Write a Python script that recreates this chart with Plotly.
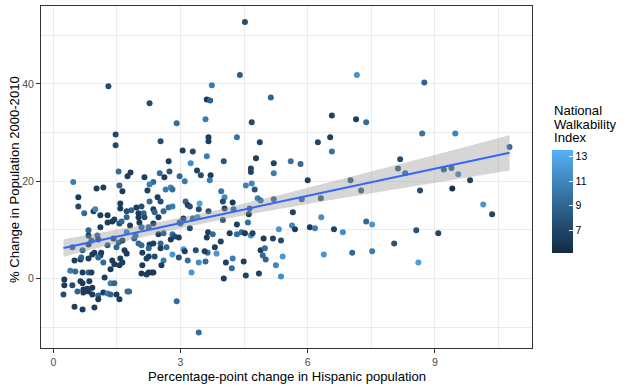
import numpy as np
import plotly.graph_objects as go

# Percentage-point change in Hispanic population, % change in population 2000-2010, walkability index
hisp_change = [
 1.30, 2.27,
 4.52, 4.40, 3.74, 5.13, 3.62, 3.70, 3.59, 2.91, 4.68,
 7.16, 6.57, 7.14, 7.38, 6.53, 6.24, 6.57, 5.83, 8.18, 8.13, 8.30, 6.00, 7.01,
 8.75, 8.70, 9.48, 10.76, 9.21, 9.39, 9.55, 9.83,
 7.26, 6.31, 8.65, 9.41, 10.14, 10.35, 6.32, 6.62, 6.83, 7.38, 7.52, 8.56, 9.08, 6.38, 7.05, 7.52, 8.04, 8.61,
 4.00, 4.33, 4.59, 4.16, 4.33, 4.44, 4.52, 4.66, 4.70, 3.95, 4.96, 5.18, 5.37, 5.32, 5.63, 5.70, 6.05, 6.17,
 4.89, 4.99, 4.94, 5.01, 5.41, 5.25, 5.37, 4.07, 4.23, 4.49, 4.21, 4.02, 4.54, 4.85,
 4.33, 4.87, 4.02, 4.78, 5.20, 5.60, 4.66, 4.66, 5.20, 4.54, 4.68, 4.75, 3.96, 4.04, 4.00, 4.23, 4.82, 4.89,
 5.20, 5.86, 4.04, 4.25, 4.63, 4.61, 5.65,
 2.53, 3.66, 3.66, 3.05, 3.29, 3.62, 2.72, 3.24, 1.82, 2.15, 2.51, 2.74, 2.62, 2.98, 3.10, 3.39, 3.48, 3.71,
 3.69, 2.36, 2.27, 2.22, 2.65, 2.77, 2.81, 2.46, 2.53, 2.27, 3.12, 3.45, 3.17, 3.22, 3.43, 3.66, 3.07, 3.29,
 3.40, 1.96, 2.08, 1.84, 2.01, 2.13, 2.01, 2.15, 2.36, 2.39, 2.60, 2.72, 2.81, 2.48,
 1.47, 1.47, 1.54, 1.75, 0.47, 1.56, 1.02, 1.18, 1.63, 0.59, 1.58, 0.59, 1.58, 1.73, 0.73, 0.95, 0.99, 1.11,
 1.28, 1.44, 1.73,
 0.83, 1.11, 1.28, 1.39, 1.56, 1.61, 1.73, 0.83, 1.04, 0.45, 0.69, 0.90, 0.83, 1.06, 1.28, 1.49, 1.54, 1.42,
 1.63, 1.68, 1.73, 0.97, 1.13, 0.92, 1.11, 0.50, 0.64, 0.83, 0.66, 1.06, 1.18, 1.39, 1.58, 1.44, 1.56, 1.63,
 0.40, 0.52, 0.69, 0.83, 0.90, 1.21, 1.35, 1.35, 1.44, 0.26, 0.26, 0.45, 0.64, 0.69, 0.85, 0.92, 0.80, 0.71,
 0.24, 0.57, 0.71, 0.83, 0.92, 1.06, 1.06, 1.18, 1.28, 1.35, 1.49, 1.56, 1.75, 0.50, 0.69, 0.97,
 1.81, 2.03, 2.36, 2.08, 2.25, 1.94, 1.91, 2.48, 2.60, 2.81, 2.86, 2.96, 2.77, 2.98, 3.22, 2.01, 2.08, 2.27,
 2.36, 2.53, 2.53, 2.67, 2.25, 2.10, 2.39, 2.25, 2.20, 2.81, 2.60, 2.96, 3.07, 3.10, 3.36, 3.64, 3.57, 3.85,
 3.81, 3.65, 3.62, 3.76, 3.17, 3.43, 3.59, 3.26, 2.10, 2.55, 2.08, 2.20, 2.25, 2.32, 2.36, 1.79, 2.91, 3.43,
 3.00,
]
pop_change = [
 39.5, 36.0,
 52.7, 41.8, 39.7, 37.2, 36.8, 36.6, 32.7, 31.9, 32.1,
 41.8, 33.5, 32.7, 32.1, 29.0, 28.0, 26.1, 23.5, 24.5, 22.6, 21.6, 20.2, 20.2,
 40.3, 29.8, 29.8, 27.0, 22.4, 22.7, 21.4, 20.2,
 18.1, 16.5, 18.1, 18.5, 15.2, 13.2, 12.6, 10.1, 9.5, 11.7, 11.1, 9.9, 9.3, 4.9, 5.3, 5.6, 7.2, 3.3,
 12.0, 11.1, 11.5, 9.3, 9.1, 9.5, 9.3, 8.8, 9.3, 7.6, 8.2, 8.2, 7.8, 10.1, 10.9, 10.1, 10.5, 10.3,
 5.8, 6.2, 4.7, 3.9, 4.5, 2.7, 0.4, 3.3, 4.1, 3.5, 2.1, 0.0, 0.6, 1.0,
 29.0, 28.0, 24.1, 24.7, 23.7, 24.1, 22.6, 21.9, 21.6, 19.1, 19.5, 18.3, 17.9, 16.7, 15.8, 15.6, 16.5, 16.0,
 16.3, 16.3, 14.4, 14.2, 14.4, 13.2, 13.6,
 28.2, 29.0, 28.2, 26.3, 26.1, 25.1, 24.1, 23.7, 21.8, 20.8, 21.6, 22.0, 20.8, 21.0, 20.0, 22.2, 21.2, 21.2,
 20.2, 19.8, 19.3, 18.1, 18.3, 18.7, 18.3, 16.7, 15.8, 15.8, 15.8, 15.4, 15.1, 14.8, 14.2, 13.8, 12.3, 12.3,
 12.6, 14.6, 14.8, 14.0, 13.4, 13.4, 12.6, 12.6, 14.2, 13.6, 13.8, 14.6, 14.8, 12.6,
 29.6, 27.4, 22.0, 21.0, 19.8, 19.1, 18.5, 18.7, 17.9, 16.7, 15.4, 14.8, 14.4, 13.8, 13.4, 13.8, 14.2, 13.0,
 13.0, 12.1, 12.6,
 9.9, 10.5, 11.5, 11.7, 11.3, 11.7, 9.5, 8.8, 8.8, 6.4, 5.8, 7.8, 7.0, 8.0, 6.8, 6.4, 7.4, 8.2,
 7.8, 5.8, 5.1, 5.3, 5.3, 4.9, 4.7, 3.7, 3.9, 4.1, 4.3, 4.3, 3.3, 3.7, 4.1, 2.9, 2.7, 3.3,
 1.6, 1.4, 1.2, 1.2, 1.2, 0.2, 1.9, -1.0, -1.0, -0.2, -1.4, -1.4, -0.6, -1.0, -0.6, -1.9, -2.1, -2.3,
 -3.3, -2.7, -2.9, -2.7, -3.3, -3.5, -4.3, -2.9, -3.1, -3.3, -3.3, -4.3, -2.7, -5.8, -6.4, -6.0,
 10.9, 11.5, 11.3, 10.5, 10.5, 8.8, 8.2, 9.1, 9.3, 9.1, 8.6, 8.4, 8.0, 11.5, 10.3, 7.2, 6.8, 7.0,
 7.2, 7.2, 6.2, 6.4, 6.2, 5.3, 4.5, 4.5, 4.1, 4.9, 3.7, 4.3, 6.0, 5.6, 5.8, 5.3, 5.6, 5.1,
 6.4, 9.5, 8.4, 9.1, 3.7, 3.3, 3.5, 1.2, 2.7, 2.7, 1.0, 0.8, 1.2, 1.2, 1.2, -2.7, -4.7, -11.1,
 11.3,
]
walkability = [
 7.5, 7.5,
 7.5, 8.5, 10.3, 9.0, 6.0, 9.0, 10.5, 9.5, 7.3,
 11.8, 6.8, 6.5, 9.5, 6.5, 7.0, 9.8, 9.3, 7.5, 8.5, 9.0, 6.5, 8.5,
 9.0, 9.8, 10.8, 9.5, 8.5, 8.5, 11.0, 6.8,
 8.5, 8.5, 7.5, 5.6, 12.0, 6.8, 11.5, 6.8, 11.5, 9.3, 12.0, 7.8, 7.0, 12.0, 9.3, 10.3, 7.8, 12.5,
 8.5, 6.5, 9.5, 6.5, 9.5, 9.5, 6.3, 11.5, 6.8, 6.8, 6.3, 6.8, 7.3, 12.0, 11.0, 6.5, 6.3, 10.5,
 6.5, 9.5, 9.5, 9.0, 12.0, 11.0, 11.5, 6.5, 10.5, 6.5, 9.5, 6.5, 6.8, 6.8,
 10.0, 7.0, 8.0, 6.5, 6.8, 9.8, 7.0, 7.0, 10.5, 10.8, 11.0, 8.0, 9.8, 11.3, 7.5, 6.3, 10.5, 9.5,
 9.0, 9.0, 6.8, 9.0, 8.5, 6.3, 6.8,
 7.5, 6.5, 6.5, 6.5, 7.3, 10.5, 6.5, 11.5, 6.5, 6.5, 9.5, 8.0, 6.5, 9.0, 10.3, 6.8, 7.5, 6.5,
 10.3, 9.5, 10.5, 6.5, 10.3, 11.3, 9.5, 6.5, 7.5, 9.3, 9.0, 12.5, 6.5, 7.5, 7.5, 7.5, 6.3, 9.0,
 11.5, 6.5, 7.5, 9.0, 6.5, 9.0, 6.3, 7.5, 6.5, 9.0, 9.3, 9.5, 10.3, 6.5,
 7.3, 7.3, 9.5, 6.5, 10.5, 9.0, 6.5, 6.5, 6.3, 6.3, 6.5, 7.3, 6.3, 7.5, 9.3, 6.5, 11.0, 6.5,
 6.3, 6.5, 9.0,
 9.0, 6.5, 6.5, 6.3, 7.5, 9.0, 10.5, 6.5, 9.0, 8.5, 8.5, 8.5, 6.8, 6.5, 8.5, 9.0, 9.0, 6.5,
 6.5, 6.5, 6.3, 6.5, 6.3, 6.3, 6.5, 6.5, 6.3, 6.5, 9.0, 9.0, 9.3, 6.5, 6.5, 6.3, 6.5, 6.5,
 10.5, 9.3, 6.5, 9.0, 6.5, 6.5, 6.3, 10.5, 9.0, 6.3, 6.3, 7.5, 6.5, 6.3, 6.5, 6.3, 6.5, 6.3,
 7.5, 9.0, 6.3, 6.5, 6.3, 9.3, 6.3, 6.5, 10.5, 9.0, 6.5, 6.3, 9.3, 6.5, 6.3, 6.5,
 6.5, 6.5, 6.3, 9.0, 9.3, 9.3, 9.0, 6.5, 9.3, 9.5, 7.5, 6.5, 6.3, 9.0, 7.5, 9.3, 9.3, 6.3,
 6.5, 9.0, 6.5, 9.3, 9.0, 6.5, 7.5, 6.3, 6.5, 12.0, 10.5, 8.0, 12.5, 6.5, 7.5, 9.5, 6.5, 12.0,
 6.5, 6.5, 6.3, 9.3, 9.5, 11.5, 9.5, 12.0, 6.3, 6.5, 6.3, 6.5, 6.3, 6.5, 6.3, 9.5, 9.5, 9.5,
 9.0,
]

x_ticks = [0, 3, 6, 9]
y_ticks = [0, 20, 40]
cbar_ticks = [7, 9, 11, 13]
x_title = "Percentage-point change in Hispanic population"
y_title = "% Change in Population 2000-2010"
legend_title = ["National", "Walkability", "Index"]

x = np.array(hisp_change)
y = np.array(pop_change)
n = len(x)

# linear fit with 95% confidence band (as geom_smooth(method = "lm"))
slope, intercept = np.polyfit(x, y, 1)
resid = y - (intercept + slope * x)
s = np.sqrt(np.sum(resid ** 2) / (n - 2))
xbar = x.mean()
sxx = np.sum((x - xbar) ** 2)
xs = np.linspace(x.min(), x.max(), 80)
fit = intercept + slope * xs
se = s * np.sqrt(1.0 / n + (xs - xbar) ** 2 / sxx)
tq = 1.968
lo = fit - tq * se
hi = fit + tq * se

FONT = "Liberation Sans, Arial, sans-serif"
TITLE_SIZE = 13.1
TICK_SIZE = 10.5
colorscale = [[0.0, "#132B43"], [0.25, "#22496C"], [0.5, "#336A98"],
              [0.75, "#448DC6"], [1.0, "#56B1F7"]]

fig = go.Figure()
fig.add_trace(go.Scatter(
    x=hisp_change, y=pop_change, mode="markers",
    marker=dict(size=6, color=walkability, colorscale=colorscale,
                cmin=5.15, cmax=13.55, line=dict(width=0),
                colorbar=dict(
                    thickness=21, thicknessmode="pixels",
                    len=103, lenmode="pixels",
                    x=(552 - 41) / 491, xanchor="left", xpad=0,
                    y=(348 - 150) / 342, yanchor="top", ypad=0,
                    tickvals=cbar_ticks, ticks="inside", ticklen=4,
                    tickcolor="white", tickwidth=1,
                    tickfont=dict(family=FONT, size=TICK_SIZE, color="#000000"),
                    outlinewidth=0, title=dict(text=""),
                )),
    showlegend=False, hoverinfo="skip"))
fig.add_trace(go.Scatter(
    x=np.concatenate([xs, xs[::-1]]), y=np.concatenate([hi, lo[::-1]]),
    fill="toself", fillcolor="rgba(153,153,153,0.4)", line=dict(width=0),
    mode="lines", showlegend=False, hoverinfo="skip"))
fig.add_trace(go.Scatter(
    x=xs, y=fit, mode="lines", line=dict(color="#3366FF", width=2),
    showlegend=False, hoverinfo="skip"))

axis_common = dict(
    showline=True, mirror=True, linecolor="#333333", linewidth=1,
    ticks="outside", ticklen=4, tickcolor="#333333", tickwidth=1,
    showgrid=True, gridcolor="#EBEBEB", gridwidth=1, zeroline=False,
    tickfont=dict(family=FONT, size=TICK_SIZE, color="#4D4D4D"),
)
fig.update_xaxes(range=[-0.29, 11.29], tickvals=x_ticks, **axis_common,
                 minor=dict(tick0=1.5, dtick=3, showgrid=True,
                            gridcolor="#EBEBEB", gridwidth=0.5, ticks=""))
fig.update_yaxes(range=[-14.3, 56.0], tickvals=y_ticks, **axis_common,
                 minor=dict(tick0=-10, dtick=20, showgrid=True,
                            gridcolor="#EBEBEB", gridwidth=0.5, ticks=""))

annotations = [
    dict(text=x_title, x=0.5, y=(348 - 376) / 342, xref="paper", yref="paper",
         xanchor="center", yanchor="middle", showarrow=False,
         font=dict(family=FONT, size=TITLE_SIZE, color="#000000")),
    dict(text=y_title, x=(14 - 41) / 491, y=(348 - 180) / 342, xref="paper", yref="paper",
         xanchor="center", yanchor="middle", showarrow=False, textangle=-90,
         font=dict(family=FONT, size=TITLE_SIZE, color="#000000")),
]
for i, line in enumerate(legend_title):
    annotations.append(dict(
        text=line, x=(552 - 41) / 491, y=(348 - (111 + 13 * i)) / 342,
        xref="paper", yref="paper", xanchor="left", yanchor="middle",
        showarrow=False, font=dict(family=FONT, size=TITLE_SIZE, color="#000000")))

fig.update_layout(
    width=629, height=389,
    margin=dict(l=41, r=97, t=6, b=41),
    paper_bgcolor="white", plot_bgcolor="white",
    annotations=annotations,
)

fig.write_html("out.html", config={"displayModeBar": False},
               post_script="document.body.style.margin='0';document.body.style.padding='0';")
